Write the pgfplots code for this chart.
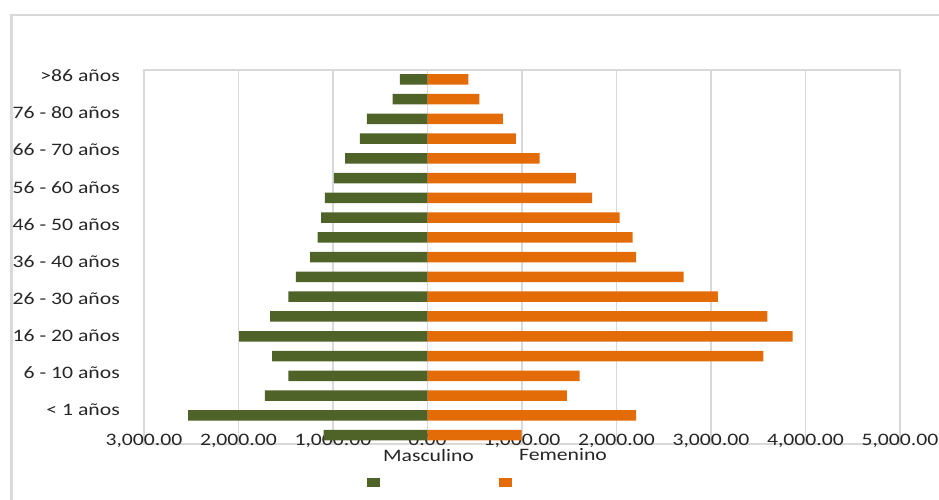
\documentclass[border=0pt]{standalone}
\usepackage{fontspec}
\setmainfont{Carlito}[FakeStretch=1.24]
\usepackage{pgfplots}
\pgfplotsset{compat=1.18}
\usepackage{pgfplotstable}
\definecolor{gridgray}{HTML}{D9D9D9}
\definecolor{mgreen}{HTML}{4F6228}
\definecolor{forange}{HTML}{E36C09}
\definecolor{txt}{HTML}{262626}

\pgfplotstableread{
i M F
-1 -1098 996
0 -2532 2207
1 -1722 1474
2 -1471 1611
3 -1643 3554
4 -1993 3865
5 -1665 3597
6 -1471 3072
7 -1394 2710
8 -1241 2207
9 -1164 2171
10 -1125 2034
11 -1087 1742
12 -991 1569
13 -871 1186
14 -716 936
15 -642 798
16 -370 549
17 -293 433
}\datatable

\begin{document}
\begin{tikzpicture}[x=1pt,y=1pt]
\useasboundingbox (0,0) rectangle (939,500);
% outer chart frame (top and left visible)
\draw[gridgray, line width=2.5pt] (11.5,0) -- (11.5,485) -- (939,485);
\begin{axis}[
  at={(144pt,56pt)}, anchor=south west,
  scale only axis, width=756pt, height=374pt,
  xmin=-3000, xmax=5000, ymin=-1.45, ymax=17.47,
  xbar, bar width=10.5pt,
  axis line style={draw=gridgray, line width=2pt},
  xmajorgrids, grid style={draw=gridgray, line width=1.5pt},
  major tick length=0pt,
  xtick={-3000,-2000,-1000,0,1000,2000,3000,4000,5000},
  xticklabels={{3,000.00},{2,000.00},{1,000.00},{0.00},{1,000.00},{2,000.00},{3,000.00},{4,000.00},{5,000.00}},
  ytick={0.27,2.148,4.026,5.904,7.782,9.66,11.538,13.416,15.294,17.172},
  yticklabels={{< 1 años},{6 - 10 años},{16 - 20 años},{26 - 30 años},{36 - 40 años},{46 - 50 años},{56 - 60 años},{66 - 70 años},{76 - 80 años},{>86 años}},
  tick label style={font=\fontsize{17.5}{20}\selectfont, text=txt},
  xticklabel style={anchor=base, inner sep=0pt, yshift=-1.7pt},
  yticklabel style={anchor=east, inner sep=0pt, xshift=-24pt},
  clip=false,
]
\addplot[xbar, bar shift=0pt, fill=mgreen, draw=none] table[x=M, y=i] {\datatable};
\addplot[xbar, bar shift=0pt, fill=forange, draw=none] table[x=F, y=i] {\datatable};
\end{axis}
\node[font=\fontsize{17.5}{20}\selectfont, text=txt] at (428.5,45) {Masculino};
\node[font=\fontsize{17.5}{20}\selectfont, text=txt] at (563,45) {Femenino};
\node[fill=mgreen, minimum width=12.5pt, minimum height=9pt, inner sep=0pt] at (373.5,17.5) {};
\node[fill=forange, minimum width=12.5pt, minimum height=9pt, inner sep=0pt] at (505.5,17.5) {};
\end{tikzpicture}
\end{document}
